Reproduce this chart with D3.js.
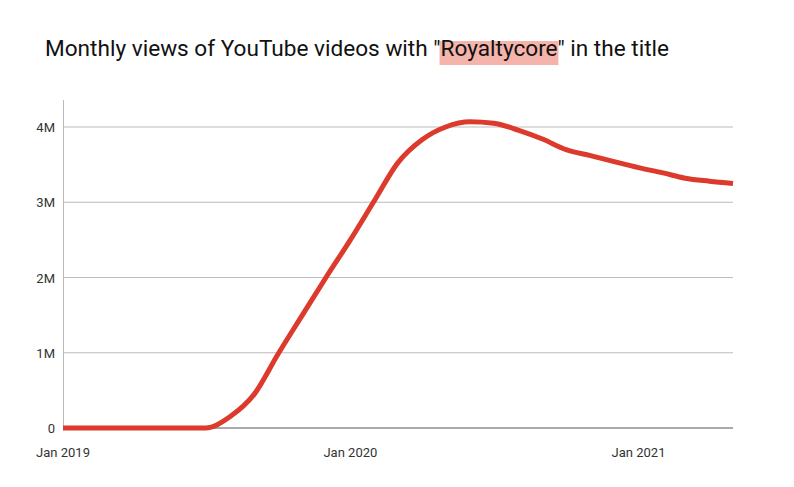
<!DOCTYPE html>
<html><head><meta charset="utf-8">
<script src="https://cdn.jsdelivr.net/npm/d3@7"></script>
<style>body{margin:0;background:#fff;font-family:Roboto,sans-serif}</style>
</head><body><svg id="c" width="794" height="487"></svg>
<script>
const months = d3.range(29).map(i => new Date(2019, i, 1));
const views = [0,0,0,0,0,0,0,0.15,0.45,0.98,1.5,2.0,2.5,3.03,3.52,3.83,4.0,4.07,4.05,3.96,3.84,3.7,3.62,3.54,3.46,3.39,3.32,3.28,3.25].map(v=>v*1e6);
const yTicks = [0,1e6,2e6,3e6,4e6];
const yTickLabels = ["0","1M","2M","3M","4M"];
const xTicks = [new Date(2019,0,1), new Date(2020,0,1), new Date(2021,0,1)];
const xTickLabels = ["Jan 2019","Jan 2020","Jan 2021"];

const svg = d3.select("#c");
const x = d3.scaleTime().domain([months[0], months[28]]).range([63, 733]);
const y = d3.scaleLinear().domain([0, 4e6]).range([428, 127]);

const title = svg.append("text").attr("x",45).attr("y",56).attr("font-size",22.6).attr("fill","#111");
title.append("tspan").text('Monthly views of YouTube videos with "');
const hl = title.append("tspan").text('Royaltycore');
title.append("tspan").text('" in the title');
const t0 = title.node();
const s = t0.getSubStringLength(0, 38), w = t0.getSubStringLength(38, 11);
svg.insert("rect","text").attr("x",45+s-1).attr("y",41).attr("width",w+2).attr("height",24).attr("fill","#f4b4ab");

yTicks.forEach((t,i)=>{
  svg.append("line").attr("x1",63).attr("x2",733).attr("y1",y(t)).attr("y2",y(t))
    .attr("stroke", i===0?"#555":"#bbb").attr("stroke-width",1);
  svg.append("text").attr("x",55).attr("y",y(t)+5).attr("text-anchor","end")
    .attr("font-size",13).attr("fill","#333").text(yTickLabels[i]);
});
svg.append("line").attr("x1",63.5).attr("x2",63.5).attr("y1",100).attr("y2",428).attr("stroke","#bbb");
xTicks.forEach((t,i)=>{
  svg.append("text").attr("x",x(t)).attr("y",457).attr("text-anchor","middle")
    .attr("font-size",13).attr("fill","#333").text(xTickLabels[i]);
});
const line = d3.line().x((d,i)=>x(months[i])).y(d=>y(d)).curve(d3.curveMonotoneX);
svg.append("path").attr("d",line(views)).attr("fill","none")
  .attr("stroke","#dc3a2c").attr("stroke-width",5).attr("stroke-linejoin","round");
</script></body></html>
